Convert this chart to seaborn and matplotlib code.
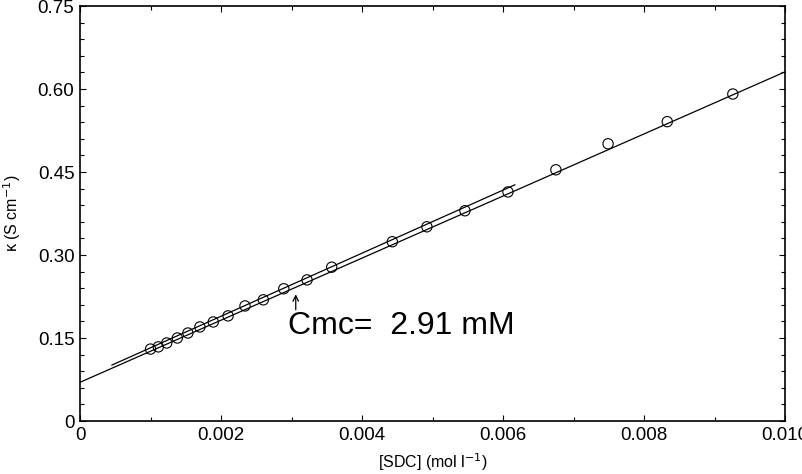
import numpy as np
import pandas as pd
import matplotlib
matplotlib.use("Agg")
import matplotlib.pyplot as plt
from matplotlib.ticker import MultipleLocator, FuncFormatter
import seaborn as sns

sdc = [0.00100, 0.00111, 0.00123, 0.00138, 0.00153, 0.00170, 0.00189, 0.00210,
       0.00234, 0.00260, 0.00289, 0.00322, 0.00357, 0.00443, 0.00492, 0.00546,
       0.00607, 0.00675, 0.00749, 0.00833, 0.00926]
kappa = [0.130, 0.134, 0.141, 0.150, 0.159, 0.170, 0.179, 0.190,
         0.208, 0.219, 0.239, 0.255, 0.278, 0.324, 0.351, 0.380,
         0.414, 0.454, 0.501, 0.541, 0.591]

# two linear fits (x range, y at ends)
fit_long_x = [0.0, 0.0100]
fit_long_y = [0.070, 0.631]
fit_short_x = [0.00045, 0.00617]
fit_short_y = [0.101, 0.427]

cmc_label = "Cmc=  2.91 mM"

points = pd.DataFrame({"sdc": sdc, "kappa": kappa})
lines = pd.DataFrame({
    "x": fit_long_x + fit_short_x,
    "y": fit_long_y + fit_short_y,
    "fit": ["long", "long", "short", "short"],
})

sns.set_style("ticks", {"axes.edgecolor": "black", "text.color": "black",
                        "xtick.color": "black", "ytick.color": "black",
                        "axes.labelcolor": "black"})
plt.rcParams["font.family"] = ["Liberation Sans", "DejaVu Sans"]

fig = plt.figure(figsize=(8.02, 4.74), dpi=100)
ax = fig.add_axes([0.0998, 0.1118, 0.879, 0.8755])

sns.lineplot(data=lines, x="x", y="y", units="fit", estimator=None,
             color="black", lw=0.9, ax=ax, legend=False)
sns.scatterplot(data=points, x="sdc", y="kappa", ax=ax, marker="o", s=55,
                facecolor="none", edgecolor="black", linewidth=0.8, zorder=3)

ax.set_xlim(0, 0.010)
ax.set_ylim(0, 0.75)
ax.xaxis.set_major_locator(MultipleLocator(0.002))
ax.xaxis.set_minor_locator(MultipleLocator(0.001))
ax.yaxis.set_major_locator(MultipleLocator(0.15))
ax.yaxis.set_minor_locator(MultipleLocator(0.03))
ax.xaxis.set_major_formatter(FuncFormatter(lambda v, p: "0" if v == 0 else f"{v:.3f}"))
ax.yaxis.set_major_formatter(FuncFormatter(lambda v, p: "0" if v == 0 else f"{v:.2f}"))
ax.tick_params(which="both", direction="in", top=True, right=True, labelsize=13.5,
               width=0.8, colors="black")
ax.tick_params(which="major", length=4, pad=4)
ax.tick_params(which="minor", length=3)
for s in ax.spines.values():
    s.set_linewidth(1.2)
    s.set_color("black")
    s.set_visible(True)

ax.set_xlabel("[SDC] (mol l$^{-1}$)", fontsize=11.5, va="center", color="black")
ax.set_ylabel("κ (S cm$^{-1}$)", fontsize=11.5, va="center", color="black")
ax.xaxis.set_label_coords(0.50, -0.098)
ax.yaxis.set_label_coords(-0.096, 0.5)

ax.annotate("", xy=(0.00306, 0.234), xytext=(0.00306, 0.196),
            arrowprops=dict(arrowstyle="->", color="black", lw=0.9))
ax.text(0.00295, 0.172, cmc_label, fontsize=23, va="center", ha="left", color="black")

fig.savefig("out.png", dpi=100)
